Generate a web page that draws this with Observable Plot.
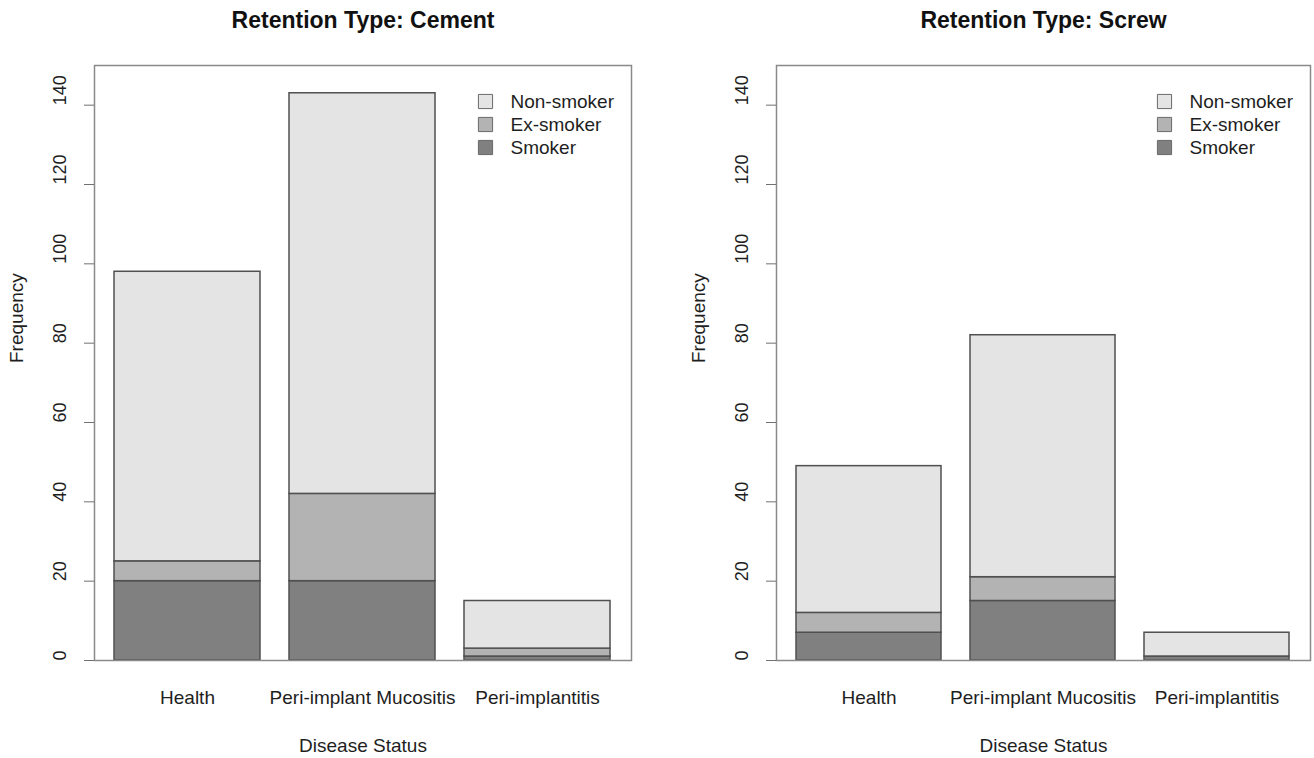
<!DOCTYPE html>
<html>
<head>
<meta charset="utf-8">
<script src="https://cdn.jsdelivr.net/npm/d3@7"></script>
<script src="https://cdn.jsdelivr.net/npm/@observablehq/plot@0.6"></script>
<style>
  html, body { margin: 0; padding: 0; background: #fff; }
  #wrap { position: relative; width: 1314px; height: 758px; overflow: hidden; }
  #wrap svg { position: absolute; top: 0; }
</style>
</head>
<body>
<div id="wrap"></div>
<script>
// ---- data ----
const categories = ["Health", "Peri-implant Mucositis", "Peri-implantitis"];
const stackGroups = ["Smoker", "Ex-smoker", "Non-smoker"];      // bottom -> top
const legendOrder = ["Non-smoker", "Ex-smoker", "Smoker"];
const groupFills = ["#808080", "#b3b3b3", "#e4e4e4"];
const yTicks = [0, 20, 40, 60, 80, 100, 120, 140];
const panelTitles = ["Retention Type: Cement", "Retention Type: Screw"];

const cementSmoker = [20, 20, 1];
const cementEx = [5, 22, 2];
const cementNon = [73, 101, 12];

const screwSmoker = [7, 15, 1];
const screwEx = [5, 6, 0];
const screwNon = [37, 61, 6];

const FONT = '"Liberation Sans", Arial, Helvetica, sans-serif';
const TEXT = "#1e1e1e";

function panel(title, smoker, ex, non, mLeft, mRight, left) {
  const rows = [];
  categories.forEach((c, i) => {
    rows.push({status: c, group: "Smoker", value: smoker[i]});
    rows.push({status: c, group: "Ex-smoker", value: ex[i]});
    rows.push({status: c, group: "Non-smoker", value: non[i]});
  });
  const legend = legendOrder.flatMap((k, i) => [
    Plot.dot([k], {fill: d => d, symbol: "square", r: 8, stroke: "#6a6a6a", strokeWidth: 1,
                   frameAnchor: "top-right", dx: -146, dy: 36 + i * 23}),
    Plot.text([k], {frameAnchor: "top-right", dx: -121, dy: 36 + i * 23, textAnchor: "start",
                    lineAnchor: "middle", fontSize: 19, fill: TEXT})
  ]);
  const svg = Plot.plot({
    width: 657,
    height: 758,
    marginTop: 65,
    marginBottom: 98,
    marginLeft: mLeft,
    marginRight: mRight,
    style: {fontFamily: FONT, fontSize: "19px", background: "transparent", overflow: "visible"},
    x: {type: "band", domain: categories, paddingInner: 0.165, paddingOuter: 0.11, axis: null},
    y: {domain: [0, 150]},
    color: {domain: stackGroups, range: groupFills},
    marks: [
      Plot.barY(rows, {x: "status", y: "value", fill: "group", stroke: "#505050", strokeWidth: 1.5}),
      Plot.frame({stroke: "#8a8a8a", strokeWidth: 1.5}),
      Plot.axisY({ticks: yTicks, tickSize: 10, tickFormat: () => "", stroke: "#707070", label: null}),
      Plot.text(yTicks, {y: d => d, text: d => String(d), frameAnchor: "left", dx: -34, rotate: -90,
                         lineAnchor: "middle", fontSize: 18, fill: TEXT}),
      Plot.text(["Frequency"], {frameAnchor: "left", dx: -78, rotate: -90, lineAnchor: "middle",
                                fontSize: 19, fill: TEXT}),
      Plot.text(categories, {x: d => d, frameAnchor: "bottom", dy: 37, lineAnchor: "middle",
                             fontSize: 19, fill: TEXT}),
      Plot.text(["Disease Status"], {frameAnchor: "bottom", dy: 85, lineAnchor: "middle",
                                     fontSize: 19, fill: TEXT}),
      Plot.text([title], {frameAnchor: "top", dy: -45, lineAnchor: "middle", fontSize: 23,
                          fontWeight: "bold", fill: "#111"}),
      ...legend
    ]
  });
  svg.style.left = left + "px";
  return svg;
}

const wrap = document.getElementById("wrap");
wrap.appendChild(panel(panelTitles[0], cementSmoker, cementEx, cementNon, 94, 26, 0));
wrap.appendChild(panel(panelTitles[1], screwSmoker, screwEx, screwNon, 119, 4, 657));
</script>
</body>
</html>
